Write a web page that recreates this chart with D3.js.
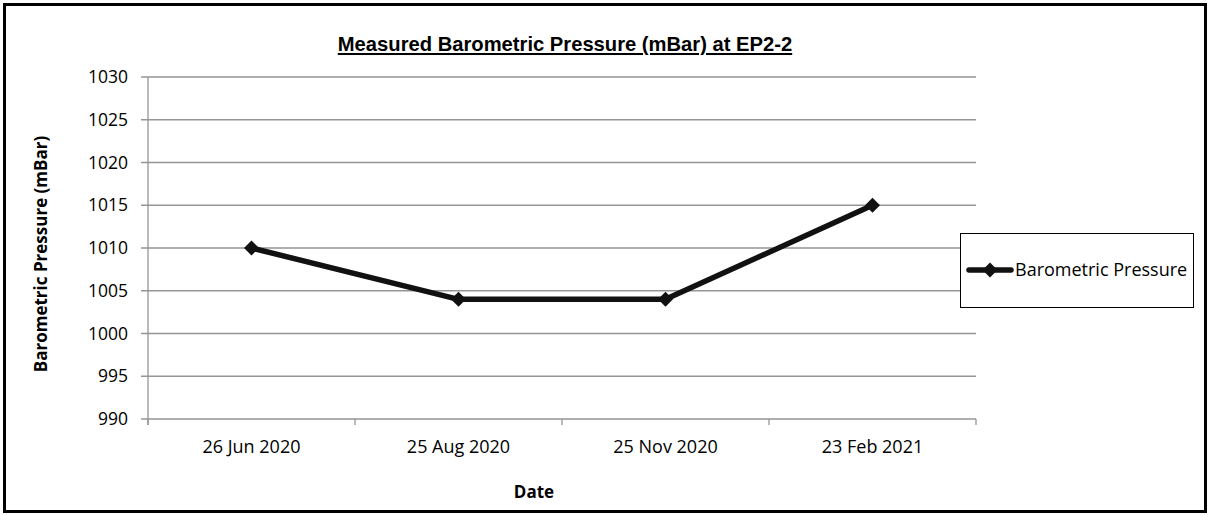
<!DOCTYPE html>
<html><head><meta charset="utf-8">
<script src="https://cdn.jsdelivr.net/npm/d3@7"></script>
<style>body{margin:0;background:#fff}svg{display:block}</style>
</head><body>
<script>
const categories = ["26 Jun 2020", "25 Aug 2020", "25 Nov 2020", "23 Feb 2021"];
const pressure = [1010, 1004, 1004, 1015];
const yTicks = [990, 995, 1000, 1005, 1010, 1015, 1020, 1025, 1030];
const seriesName = "Barometric Pressure";
const titleText = "Measured Barometric Pressure (mBar) at EP2-2";
const yTitle = "Barometric Pressure (mBar)";
const xTitle = "Date";

const W = 1210, H = 515;
const font = "'Open Sans', 'Noto Sans', sans-serif";
const svg = d3.select("body").append("svg").attr("width", W).attr("height", H);
svg.append("rect").attr("x", 4.5).attr("y", 4.5).attr("width", 1201).attr("height", 507)
  .attr("fill", "#fff").attr("stroke", "#000").attr("stroke-width", 3);

const L = 148, R = 976, T = 77, B = 419;
const x = d3.scaleBand().domain(categories).range([L, R]);
const y = d3.scaleLinear().domain([990, 1030]).range([B, T]);

// gridlines
svg.append("g").selectAll("line").data(yTicks).join("line")
  .attr("x1", L - 7).attr("x2", R).attr("y1", d => y(d)).attr("y2", d => y(d))
  .attr("stroke", "#959595").attr("stroke-width", 1.3);
// y axis line
svg.append("line").attr("x1", L).attr("x2", L).attr("y1", T).attr("y2", B + 6)
  .attr("stroke", "#959595").attr("stroke-width", 1.3);
// x tick marks
const xt = categories.map(c => x(c)).concat([x(categories[categories.length-1]) + x.bandwidth()]);
svg.append("g").selectAll("line").data(xt).join("line")
  .attr("x1", d => d).attr("x2", d => d).attr("y1", B).attr("y2", B + 6)
  .attr("stroke", "#959595").attr("stroke-width", 1.3);

// y tick labels
svg.append("g").selectAll("text").data(yTicks).join("text")
  .attr("x", 128).attr("y", d => y(d)).attr("dy", "0.35em").attr("text-anchor", "end")
  .attr("font-family", font).attr("font-size", 17.5).text(d => d);
// x tick labels
svg.append("g").selectAll("text").data(categories).join("text")
  .attr("x", d => x(d) + x.bandwidth() / 2).attr("y", 453).attr("text-anchor", "middle")
  .attr("font-family", font).attr("font-size", 18).text(d => d);

// title
svg.append("text").attr("x", 565).attr("y", 51).attr("text-anchor", "middle")
  .attr("font-family", "'Liberation Sans', Arial, sans-serif").attr("font-weight", "bold")
  .attr("font-size", 20.2).attr("text-decoration", "underline").text(titleText);

// axis titles
svg.append("text").attr("transform", "translate(47,254) rotate(-90)").attr("text-anchor", "middle")
  .attr("font-family", font).attr("font-weight", "bold").attr("font-size", 17).text(yTitle);
svg.append("text").attr("x", 534).attr("y", 498).attr("text-anchor", "middle")
  .attr("font-family", font).attr("font-weight", "bold").attr("font-size", 17).text(xTitle);

// line
const line = d3.line().x((d, i) => x(categories[i]) + x.bandwidth() / 2).y(d => y(d));
svg.append("path").datum(pressure).attr("d", line).attr("fill", "none")
  .attr("stroke", "#111").attr("stroke-width", 5.5).attr("stroke-linejoin", "round");
const diamond = "M0,-7.5L7.5,0L0,7.5L-7.5,0Z";
svg.append("g").selectAll("path").data(pressure).join("path")
  .attr("transform", (d, i) => `translate(${x(categories[i]) + x.bandwidth() / 2},${y(d)})`)
  .attr("d", diamond).attr("fill", "#111");

// legend
const lg = svg.append("g");
lg.append("rect").attr("x", 960.5).attr("y", 233.5).attr("width", 233).attr("height", 74)
  .attr("fill", "#fff").attr("stroke", "#000").attr("stroke-width", 1);
lg.append("line").attr("x1", 969).attr("x2", 1011).attr("y1", 270).attr("y2", 270)
  .attr("stroke", "#111").attr("stroke-width", 5.5).attr("stroke-linecap", "round");
lg.append("path").attr("transform", "translate(990,270)").attr("d", diamond).attr("fill", "#111");
lg.append("text").attr("x", 1015).attr("y", 270).attr("dy", "0.35em")
  .attr("font-family", font).attr("font-size", 18).text(seriesName);
</script>
</body></html>
